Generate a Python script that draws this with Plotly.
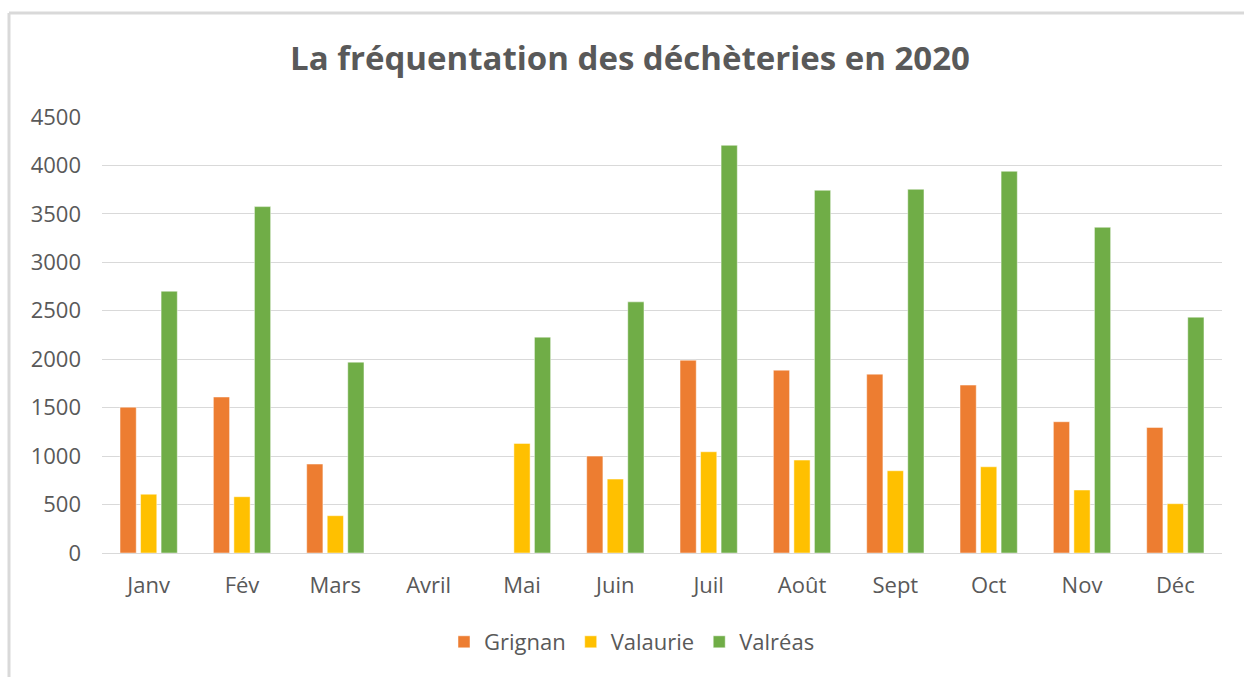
import plotly.graph_objects as go

months = ["Janv", "Fév", "Mars", "Avril", "Mai", "Juin", "Juil", "Août", "Sept", "Oct", "Nov", "Déc"]
grignan = [1505, 1610, 918, 0, 0, 1000, 1990, 1887, 1846, 1733, 1355, 1296]
valaurie = [607, 581, 385, 0, 1131, 763, 1045, 959, 849, 890, 650, 509]
valreas = [2702, 3575, 1970, 0, 2228, 2592, 4208, 3744, 3754, 3940, 3362, 2434]

series = [("Grignan", grignan, "#ED7D31"),
          ("Valaurie", valaurie, "#FFC000"),
          ("Valréas", valreas, "#70AD47")]

FONT = "Open Sans"
GRAY = "#595959"

fig = go.Figure()
for name, vals, col in series:
    fig.add_trace(go.Bar(name=name, x=months, y=vals, marker_color=col,
                         marker_line_color="rgba(255,255,255,0.6)", marker_line_width=0.8))

L, R, T, B = 102, 22, 117, 124
W, H = 1244, 677
pw, ph = W - L - R, H - T - B

def px(x):
    return (x - L) / pw

def py(y):
    return (H - B - y) / ph

fig.update_layout(
    width=W, height=H,
    margin=dict(l=L, r=R, t=T, b=B, autoexpand=False),
    paper_bgcolor="white", plot_bgcolor="white",
    barmode="group", bargap=0.34, bargroupgap=0.21,
    title=dict(text="<b>La fréquentation des déchèteries en 2020</b>",
               font=dict(family=FONT, size=33, color=GRAY),
               xref="paper", x=px(630), xanchor="center",
               yref="container", y=1 - 58 / H, yanchor="middle"),
    font=dict(family=FONT, size=22, color=GRAY),
    legend=dict(orientation="h", xanchor="center", x=px(632), yanchor="middle", y=py(642),
                font=dict(family=FONT, size=22, color=GRAY),
                itemwidth=30, traceorder="normal", bgcolor="rgba(0,0,0,0)"),
    showlegend=True,
)
fig.update_yaxes(range=[0, 4500], dtick=500, showgrid=True, gridcolor="#D9D9D9", gridwidth=1,
                 zeroline=False, showline=False, ticks="", ticklabelstandoff=20,
                 tickfont=dict(family=FONT, size=22, color=GRAY), fixedrange=True)
fig.update_xaxes(showline=True, linecolor="#D9D9D9", linewidth=1, ticks="",
                 ticklabelstandoff=13, tickfont=dict(family=FONT, size=22, color=GRAY),
                 fixedrange=True)

border = dict(color="#D9D9D9", width=3)
fig.add_shape(type="line", xref="paper", yref="paper", x0=px(9), x1=px(W + 5), y0=py(13), y1=py(13), line=border)
fig.add_shape(type="line", xref="paper", yref="paper", x0=px(9), x1=px(9), y0=py(13), y1=py(H + 5), line=border)

fig.write_html("out.html", config={"displayModeBar": False},
               post_script="document.body.style.margin='0';document.body.style.overflow='hidden';")
